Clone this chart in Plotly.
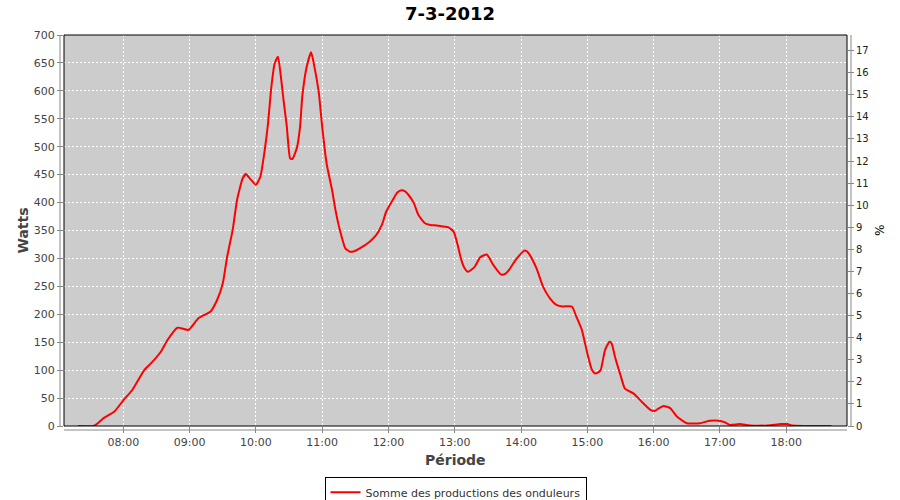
import plotly.graph_objects as go

DATE = "2012-03-07"
times = ["07:19", "07:33", "07:37", "07:42", "07:52", "08:00", "08:08", "08:19", "08:25", "08:34", "08:40",
         "08:49", "08:59", "09:08", "09:19", "09:25", "09:30", "09:34", "09:39", "09:43", "09:48",
         "09:51", "09:55", "10:00", "10:04", "10:08", "10:11", "10:14", "10:17", "10:20", "10:23",
         "10:25", "10:28", "10:31", "10:33", "10:37", "10:40", "10:42", "10:46", "10:50", "10:53",
         "10:57", "11:00", "11:04", "11:09", "11:12", "11:16", "11:21", "11:25", "11:29", "11:34",
         "11:43", "11:49", "11:54", "11:58", "12:04", "12:08", "12:12", "12:15", "12:18", "12:23",
         "12:27", "12:33", "12:38", "12:44", "12:50", "12:54", "12:59", "13:03", "13:06", "13:09",
         "13:12", "13:18", "13:23", "13:29", "13:35", "13:42", "13:46", "13:49", "13:55", "14:03",
         "14:05", "14:08", "14:14", "14:20", "14:26", "14:32", "14:38", "14:46", "14:50", "14:55",
         "15:00", "15:04", "15:07", "15:09", "15:12", "15:16", "15:20", "15:22", "15:25", "15:30",
         "15:34", "15:42", "15:49", "15:57", "16:01", "16:05", "16:09", "16:15", "16:21", "16:30",
         "16:42", "16:51", "16:59", "17:04", "17:09", "17:18", "17:27", "17:43", "17:55", "18:01",
         "18:05", "18:41"]
watts = [0, 0, 5, 14, 26, 46, 64, 100, 112, 133, 154,
         176, 172, 193, 205, 226, 255, 303, 351, 405, 443,
         451, 442, 432, 446, 494, 542, 607, 649, 661, 619,
         584, 536, 479, 478, 497, 536, 590, 643, 669, 643,
         596, 536, 470, 422, 387, 351, 318, 312, 313, 318,
         330, 342, 360, 384, 405, 418, 422, 420, 414, 399,
         378, 363, 360, 359, 357, 356, 348, 321, 297, 282,
         276, 285, 302, 307, 288, 271, 273, 279, 297, 314,
         313, 306, 282, 249, 229, 217, 214, 214, 196, 172,
         130, 101, 94, 95, 100, 136, 151, 148, 124, 91,
         67, 58, 44, 29, 27, 32, 36, 32, 17, 5,
         5, 9.5, 9.5, 7, 2, 3.5, 1, 1, 3.5, 3.5,
         1, 0]
series_name = "Somme des productions des onduleurs"
title_text = "7-3-2012"
x_title = "Période"
y_title = "Watts"
y2_title = "%"
watts_per_percent = 39.53

x_vals = [f"{DATE} {t}" for t in times]
pct = [w / watts_per_percent for w in watts]

fig = go.Figure()
fig.add_trace(go.Scatter(x=x_vals, y=watts, mode="lines", name=series_name,
                         line=dict(color="#ff0000", width=2, shape="spline", smoothing=0.5)))
fig.add_trace(go.Scatter(x=x_vals, y=pct, mode="lines", yaxis="y2", showlegend=False,
                         hoverinfo="skip", line=dict(color="rgba(0,0,0,0)", width=0)))

tickfont = dict(family="DejaVu Sans", size=11, color="#444444")
grid = dict(showgrid=True, gridcolor="white", griddash="2px,2px", gridwidth=1)
fig.update_layout(
    width=900, height=500,
    margin=dict(l=64, r=53, t=35, b=74, autoexpand=False),
    paper_bgcolor="white", plot_bgcolor="#cccccc",
    title=dict(text=f"<b>{title_text}</b>", x=0.5, xanchor="center", y=0.972, yanchor="middle",
               font=dict(family="DejaVu Sans", size=18, color="black")),
    font=dict(family="DejaVu Sans"),
    xaxis=dict(type="date", range=[f"{DATE} 07:06:20", f"{DATE} 18:55:00"],
               tick0=f"{DATE} 08:00", dtick=3600000, tickformat="%H:%M",
               ticks="outside", ticklen=6, tickcolor="#888888", tickfont=tickfont,
               zeroline=False, showline=False, automargin=False, **grid),
    yaxis=dict(range=[0, 700], dtick=50,
               ticks="outside", ticklen=6, tickcolor="#888888", tickfont=tickfont,
               zeroline=False, showline=False, automargin=False, **grid),
    yaxis2=dict(range=[0, 700 / watts_per_percent], dtick=1, overlaying="y", side="right",
                showgrid=False, zeroline=False, showline=False, automargin=False,
                ticks="outside", ticklen=6, tickcolor="#888888",
                tickfont=dict(family="DejaVu Sans", size=10, color="#222222")),
    legend=dict(orientation="h", x=0.5, xanchor="center", y=-0.13, yanchor="top",
                bordercolor="black", borderwidth=1, bgcolor="white",
                font=dict(family="DejaVu Sans", size=11, color="#333333"),
                itemwidth=30),
    showlegend=True,
    annotations=[
        dict(text=f"<b>{y_title}</b>", xref="paper", yref="paper", x=-0.0536, y=0.5,
             xanchor="center", yanchor="middle", textangle=-90, showarrow=False,
             font=dict(family="DejaVu Sans", size=14, color="#444444")),
        dict(text=f"<b>{x_title}</b>", xref="paper", yref="paper", x=0.5, y=-0.087,
             xanchor="center", yanchor="middle", showarrow=False,
             font=dict(family="DejaVu Sans", size=14, color="#444444")),
        dict(text=y2_title, xref="paper", yref="paper", x=1.042, y=0.5,
             xanchor="center", yanchor="middle", textangle=90, showarrow=False,
             font=dict(family="DejaVu Sans", size=12, color="black")),
    ],
)

# plot border and offset gray axis lines
fig.add_shape(type="rect", xref="paper", yref="paper", x0=0, y0=0, x1=1, y1=1,
              line=dict(color="black", width=1), layer="above")
fig.add_shape(type="line", xref="paper", yref="paper", x0=-4/783, x1=-4/783, y0=0, y1=1,
              line=dict(color="#888888", width=1))
fig.add_shape(type="line", xref="paper", yref="paper", x0=1 + 4/783, x1=1 + 4/783, y0=0, y1=1,
              line=dict(color="#888888", width=1))
fig.add_shape(type="line", xref="paper", yref="paper", x0=0, x1=1, y0=-4/391, y1=-4/391,
              line=dict(color="#888888", width=1))

fig.write_html("out.html", config={"displayModeBar": False},
               post_script="document.body.style.margin='0';document.body.style.overflow='hidden';")
